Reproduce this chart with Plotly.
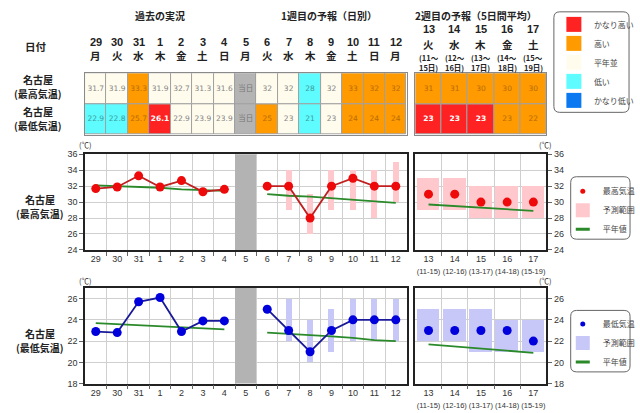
import plotly.graph_objects as go

W, H = 640, 413
def px(x): return x / W
def py(y): return 1 - y / H

# ---------------- data ----------------
days_w1 = ["29", "30", "31", "1", "2", "3", "4", "5", "6", "7", "8", "9", "10", "11", "12"]
wdays_w1 = ["月", "火", "水", "木", "金", "土", "日", "月", "火", "水", "木", "金", "土", "日", "月"]
days_w2 = ["13", "14", "15", "16", "17"]
wdays_w2 = ["火", "水", "木", "金", "土"]
period_start = [11, 12, 13, 14, 15]
period_end = [15, 16, 17, 18, 19]
today_label = "当日"

# observed (29..4), forecast (6..12)
max_obs = [31.7, 31.9, 33.3, 31.9, 32.7, 31.3, 31.6]
max_fc = [32, 32, 28, 32, 33, 32, 32]
max_fc_lo = [None, 29, 26, 29, 29, 28, 30]
max_fc_hi = [None, 34, 31, 34, 34, 34, 35]
max_norm_obs = [32.1, 32.0, 31.9, 31.8, 31.6, 31.5, 31.4]
max_norm_fc = [31.0, 30.8, 30.7, 30.5, 30.3, 30.1, 29.9]
max_w2 = [31, 31, 30, 30, 30]
max_w2_lo = [29, 29, 28, 28, 28]
max_w2_hi = [33, 33, 32, 32, 32]
max_norm_w2 = [29.7, 29.5, 29.3, 29.1, 28.9]

min_obs = [22.9, 22.8, 25.7, 26.1, 22.9, 23.9, 23.9]
min_fc = [25, 23, 21, 23, 24, 24, 24]
min_fc_lo = [None, 22, 20, 21, 22, 22, 22]
min_fc_hi = [None, 26, 24, 25, 26, 26, 26]
min_norm_obs = [23.7, 23.6, 23.5, 23.4, 23.3, 23.2, 23.1]
min_norm_fc = [22.8, 22.7, 22.55, 22.45, 22.3, 22.1, 22.0]
min_w2 = [23, 23, 23, 23, 22]
min_w2_lo = [22, 22, 21, 21, 21]
min_w2_hi = [25, 25, 25, 24, 24]
min_norm_w2 = [21.7, 21.5, 21.3, 21.1, 20.9]

# table classes: vh=かなり高い h=高い n=平年並 l=低い vl=かなり低い t=当日
max_cls_w1 = ["n", "n", "h", "n", "n", "n", "n", "t", "n", "n", "l", "n", "h", "h", "h"]
min_cls_w1 = ["l", "l", "h", "vh", "n", "n", "n", "t", "h", "n", "l", "n", "h", "h", "h"]
max_cls_w2 = ["h", "h", "h", "h", "h"]
min_cls_w2 = ["vh", "vh", "vh", "h", "h"]

classes = ["vh", "h", "n", "l", "vl"]
class_names = ["かなり高い", "高い", "平年並", "低い", "かなり低い"]

# ---------------- styles ----------------
FILL = {"vh": "#ff2222", "h": "#ff9a00", "n": "#fffcee", "l": "#5ffcff", "vl": "#0a78f0", "t": "#b4b4b4"}
TXT = {"vh": "#ffffff", "h": "#b66c00", "n": "#858585", "l": "#3a9c9c", "vl": "#ffffff", "t": "#777777"}
JP = "Noto Sans CJK JP"
NUM = "DejaVu Sans, Noto Sans CJK JP"
AX = "Liberation Sans, Arial"
GRID = "#cfcfcf"
FRAME = "#222222"

TODAY = 7
n1 = len(days_w1)
obs_idx = list(range(len(max_obs)))
fc_idx = list(range(TODAY + 1, n1))

fig = go.Figure()

# ---------------- table ----------------
def fmt_w1(obs, fc):
    return [f"{v:.1f}" for v in obs] + [today_label] + [f"{v:d}" for v in fc]

max_txt_w1 = fmt_w1(max_obs, max_fc)
min_txt_w1 = fmt_w1(min_obs, min_fc)
max_txt_w2 = [f"{v:d}" for v in max_w2]
min_txt_w2 = [f"{v:d}" for v in min_w2]

for ax, rows in (("", [(max_cls_w1, 1), (min_cls_w1, 0)]), ("2", [(max_cls_w2, 1), (min_cls_w2, 0)])):
    for c in ["vh", "h", "n", "l", "vl", "t"]:
        xs, bases = [], []
        for cls_list, row in rows:
            for i, k in enumerate(cls_list):
                if k == c:
                    xs.append(i)
                    bases.append(row)
        if not xs:
            continue
        fig.add_trace(go.Bar(
            x=xs, y=[1] * len(xs), base=bases, width=1,
            marker=dict(color=FILL[c], line=dict(color="#a0a0a0", width=1)),
            xaxis="x" + ax, yaxis="y" + ax, showlegend=False, hoverinfo="skip"))

def table_text(ax, cls_top, txt_top, cls_bot, txt_bot):
    xs = list(range(len(txt_top))) + list(range(len(txt_bot)))
    ys = [1.5] * len(txt_top) + [0.5] * len(txt_bot)
    cl = cls_top + cls_bot
    tx = txt_top + txt_bot
    tx = [f"<b>{t}</b>" if k in ("vh", "vl") else t for t, k in zip(tx, cl)]
    fig.add_trace(go.Scatter(
        x=xs, y=ys, mode="text", text=tx,
        textfont=dict(family=NUM, size=7.5, color=[TXT[k] for k in cl]),
        xaxis="x" + ax, yaxis="y" + ax, showlegend=False, hoverinfo="skip"))

table_text("", max_cls_w1, max_txt_w1, min_cls_w1, min_txt_w1)
table_text("2", max_cls_w2, max_txt_w2, min_cls_w2, min_txt_w2)

# table legend (legend)
for c, name in zip(classes, class_names):
    fig.add_trace(go.Scatter(
        x=[None], y=[None], mode="markers", name=name,
        marker=dict(symbol="square", size=15, color=FILL[c]),
        xaxis="x", yaxis="y", legend="legend"))

# ---------------- charts ----------------
def chart(axl, axr, obs, fc, lo, hi, norm_obs, norm_fc, w2, w2lo, w2hi, norm_w2,
          ymin, ymax, mcol, lcol, rcol, legend, pname):
    # today band
    fig.add_trace(go.Bar(x=[TODAY], base=[ymin], y=[ymax - ymin], width=1,
                         marker=dict(color="#b3b3b3", line=dict(width=0)),
                         xaxis="x" + axl, yaxis="y" + axl, showlegend=False, hoverinfo="skip"))
    # forecast range (daily)
    rx = [i for i, l in zip(fc_idx, lo) if l is not None]
    rl = [l for l in lo if l is not None]
    rh = [h for h in hi if h is not None]
    fig.add_trace(go.Bar(x=rx, base=rl, y=[h - l for h, l in zip(rh, rl)], width=0.28,
                         marker=dict(color=rcol, line=dict(width=0)),
                         xaxis="x" + axl, yaxis="y" + axl, showlegend=False, hoverinfo="skip"))
    # normals
    for xs, ys in ((obs_idx, norm_obs), (fc_idx, norm_fc)):
        fig.add_trace(go.Scatter(x=xs, y=ys, mode="lines", line=dict(color="#2a8a2a", width=1.8),
                                 xaxis="x" + axl, yaxis="y" + axl, showlegend=False, hoverinfo="skip"))
    # values
    for xs, ys in ((obs_idx, obs), (fc_idx, fc)):
        fig.add_trace(go.Scatter(x=xs, y=ys, mode="lines+markers",
                                 line=dict(color=lcol, width=1.8),
                                 marker=dict(color=mcol, size=9),
                                 xaxis="x" + axl, yaxis="y" + axl, showlegend=False, hoverinfo="skip"))
    # week 2
    x2 = list(range(len(w2)))
    fig.add_trace(go.Bar(x=x2, base=w2lo, y=[h - l for h, l in zip(w2hi, w2lo)], width=0.86,
                         marker=dict(color=rcol, line=dict(width=0)),
                         xaxis="x" + axr, yaxis="y" + axr, showlegend=False, hoverinfo="skip"))
    fig.add_trace(go.Scatter(x=x2, y=norm_w2, mode="lines", line=dict(color="#2a8a2a", width=1.8),
                             xaxis="x" + axr, yaxis="y" + axr, showlegend=False, hoverinfo="skip"))
    fig.add_trace(go.Scatter(x=x2, y=w2, mode="markers", marker=dict(color=mcol, size=9),
                             xaxis="x" + axr, yaxis="y" + axr, showlegend=False, hoverinfo="skip"))
    # legend entries
    fig.add_trace(go.Scatter(x=[None], y=[None], mode="markers", name=pname,
                             marker=dict(color=mcol, size=5), xaxis="x" + axr, yaxis="y" + axr, legend=legend))
    fig.add_trace(go.Scatter(x=[None], y=[None], mode="markers", name="予測範囲",
                             marker=dict(color=rcol, size=14, symbol="square"),
                             xaxis="x" + axr, yaxis="y" + axr, legend=legend))
    fig.add_trace(go.Scatter(x=[None], y=[None], mode="markers", name="平年値",
                             marker=dict(symbol="line-ew", size=10, line=dict(color="#2a8a2a", width=3)),
                             xaxis="x" + axr, yaxis="y" + axr, legend=legend))

chart("3", "4", max_obs, max_fc, max_fc_lo, max_fc_hi, max_norm_obs, max_norm_fc,
      max_w2, max_w2_lo, max_w2_hi, max_norm_w2, 24, 36,
      "#ee0a0a", "#c02020", "#ffc8cc", "legend2", "最高気温")
chart("5", "6", min_obs, min_fc, min_fc_lo, min_fc_hi, min_norm_obs, min_norm_fc,
      min_w2, min_w2_lo, min_w2_hi, min_norm_w2, 18, 27,
      "#0000dd", "#1a1a99", "#c8c8f8", "legend3", "最低気温")

# ---------------- axes ----------------
XL = [px(86), px(411)]
XR = [px(420), px(552.5)]
TY = [py(133), py(70)]
C1 = [py(251), py(153)]
C2 = [py(388), py(290)]
tick_font = dict(family=AX, size=9, color="#333333")

def table_axes(dom, rng):
    xa = dict(domain=dom, range=rng, showgrid=False, zeroline=False, showticklabels=False,
              ticks="", showline=True, mirror=True, linecolor="#8a8a8a", linewidth=1, fixedrange=True)
    ya = dict(domain=TY, range=[0, 2], showgrid=False, zeroline=False, showticklabels=False,
              ticks="", showline=True, mirror=True, linecolor="#8a8a8a", linewidth=1, fixedrange=True)
    return xa, ya

w2_ticks = [f"{d}<br><span style='font-size:7.5px'>({s}-{e})</span>"
            for d, s, e in zip(days_w2, period_start, period_end)]

def chart_x(dom, labels, anchor):
    n = len(labels)
    return dict(domain=dom, range=[-0.5, n - 0.5], anchor=anchor,
                tickmode="array", tickvals=list(range(n)), ticktext=labels, tickangle=0,
                ticks="", showgrid=False, zeroline=False, tickfont=tick_font,
                showline=True, mirror=True, linecolor=FRAME, linewidth=1.5,
                minor=dict(tickmode="array", tickvals=[i + 0.5 for i in range(n - 1)],
                           ticks="outside", ticklen=4, tickcolor="#666666",
                           showgrid=True, gridcolor=GRID, gridwidth=1))

def chart_y(dom, rng, anchor, side):
    return dict(domain=dom, range=rng, anchor=anchor, side=side, dtick=2, tick0=0,
                ticks="outside", ticklen=4, tickcolor="#666666", tickfont=tick_font,
                showgrid=True, gridcolor=GRID, gridwidth=1, zeroline=False,
                showline=True, mirror=True, linecolor=FRAME, linewidth=1.5)

xa1, ya1 = table_axes(XL, [-0.5, n1 - 0.5])
xa2, ya2 = table_axes(XR, [-0.5, len(days_w2) - 0.5])
xa1["anchor"] = "y"; ya1["anchor"] = "x"
xa2["anchor"] = "y2"; ya2["anchor"] = "x2"

layout_axes = dict(
    xaxis=xa1, yaxis=ya1, xaxis2=xa2, yaxis2=ya2,
    xaxis3=chart_x(XL, days_w1, "y3"), yaxis3=chart_y(C1, [24, 36], "x3", "left"),
    xaxis4=chart_x(XR, w2_ticks, "y4"), yaxis4=chart_y(C1, [24, 36], "x4", "right"),
    xaxis5=chart_x(XL, days_w1, "y5"), yaxis5=chart_y(C2, [18, 27], "x5", "left"),
    xaxis6=chart_x(XR, w2_ticks, "y6"), yaxis6=chart_y(C2, [18, 27], "x6", "right"),
)

# ---------------- annotations ----------------
ann = []
def text(x, y, s, size=10, bold=True, color="#222222", xref="paper", family=JP, xanchor="center"):
    ann.append(dict(x=x, y=y, xref=xref, yref="paper", text=s, showarrow=False,
                    xanchor=xanchor, yanchor="middle",
                    font=dict(family=family, size=size, color=color, weight="bold" if bold else "normal")))

DIG = "Liberation Sans, Arial"

text(px(162), py(10.5), "過去の実況", size=10)
text(px(333), py(10.5), "1週目の予報（日別）", size=10)
text(px(481), py(10.5), "2週目の予報（5日間平均）", size=10)
text(px(36), py(43), "日付", size=10.5)
for (y1, y2, s) in ((76, 90.5, "(最高気温)"), (109.5, 124, "(最低気温)"),
                    (199.5, 214, "(最高気温)"), (336.5, 351, "(最低気温)")):
    xx = px(38) if y1 < 140 else px(40)
    text(xx, py(y1), "名古屋", size=10)
    text(xx, py(y2), s, size=10)

for i, (d, w) in enumerate(zip(days_w1, wdays_w1)):
    text(i, py(38), d, size=11, xref="x", family=DIG)
    text(i, py(52.2), w, size=10.5, xref="x")
for i, (d, w, s, e) in enumerate(zip(days_w2, wdays_w2, period_start, period_end)):
    text(i, py(25), d, size=11, xref="x2", family=DIG)
    text(i, py(40.3), w, size=10.5, xref="x2")
    text(i, py(53.5), f"({s}〜", size=7.5, xref="x2")
    text(i, py(64.5), f"{e}日)", size=7.5, xref="x2")

for yy in (142.5, 282.5):
    text(px(86), py(yy), "(℃)", size=7.5, bold=False, color="#333333")
    text(px(552), py(yy), "(℃)", size=7.5, bold=False, color="#333333")

# rounded legend boxes
def rbox(x0, y0, x1, y1, r=6):
    X0, X1 = px(x0), px(x1)
    Y0, Y1 = py(y0), py(y1)
    rx, ry = r / W, r / H
    path = (f"M{X0+rx},{Y0} L{X1-rx},{Y0} Q{X1},{Y0} {X1},{Y0-ry} L{X1},{Y1+ry} Q{X1},{Y1} {X1-rx},{Y1} "
            f"L{X0+rx},{Y1} Q{X0},{Y1} {X0},{Y1+ry} L{X0},{Y0-ry} Q{X0},{Y0} {X0+rx},{Y0} Z")
    return dict(type="path", xref="paper", yref="paper", path=path,
                line=dict(color="#666666", width=1), fillcolor="rgba(0,0,0,0)", layer="above")

shapes = [rbox(560, 7, 636, 110), rbox(577, 176, 637, 240), rbox(577, 313, 637, 376)]

leg_common = dict(xanchor="left", yanchor="top", bgcolor="rgba(0,0,0,0)", borderwidth=0,
                  font=dict(family=JP, size=8, color="#444444"), itemsizing="trace",
                  tracegroupgap=0, itemclick=False, itemdoubleclick=False)

fig.update_layout(
    width=W, height=H, autosize=False,
    margin=dict(l=0, r=0, t=0, b=0),
    paper_bgcolor="white", plot_bgcolor="white",
    barmode="overlay", bargap=0,
    showlegend=True,
    legend=dict(x=px(560), y=py(5), **leg_common),
    legend2=dict(x=px(569), y=py(176), **leg_common),
    legend3=dict(x=px(569), y=py(312), **leg_common),
    annotations=ann, shapes=shapes,
    **layout_axes,
)

fig.write_html("out.html")
